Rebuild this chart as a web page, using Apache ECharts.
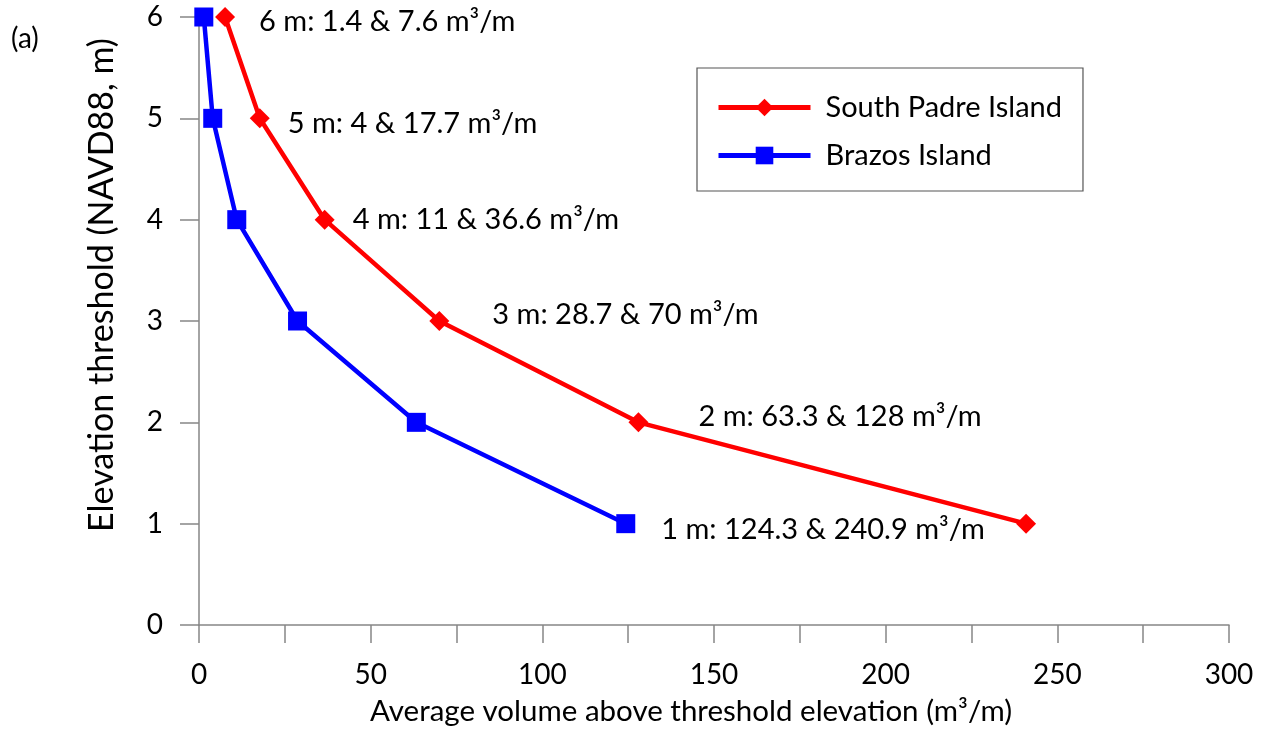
<!DOCTYPE html>
<html><head><meta charset="utf-8">
<script src="https://cdn.jsdelivr.net/npm/echarts@6/dist/echarts.min.js"></script>
<style>html,body{margin:0;padding:0;background:#fff;overflow:hidden}#c{width:1267px;height:731px}</style>
</head><body><div id="c"></div>
<script>
const elevations = [6, 5, 4, 3, 2, 1];
const brazosVolume = [1.4, 4, 11, 28.7, 63.3, 124.3];
const padreVolume = [7.6, 17.7, 36.6, 70, 128, 240.9];
const seriesNames = ['South Padre Island', 'Brazos Island'];
const xTitle = 'Average volume above threshold elevation (m³/m)';
const yTitle = 'Elevation threshold (NAVD88, m)';
const panelLabel = '(a)';

const FONT = 'Lato';
const FS = 28;
// label placement offsets (style, not data)
const labelOffsets = [[19, 5], [13, 5], [13, 0], [38, -6], [45, -6], [21, 6]];
const labelOnBlue = [false, false, false, false, false, true];

function labelText(i) {
  return elevations[i] + ' m: ' + brazosVolume[i] + ' & ' + padreVolume[i] + ' m³/m';
}
function mkLabel(i) {
  return { show: true, position: 'right', offset: labelOffsets[i], formatter: () => labelText(i) };
}

const padreData = elevations.map((e, i) => {
  const item = { value: [padreVolume[i], e] };
  if (!labelOnBlue[i]) item.label = mkLabel(i);
  return item;
});
const brazosData = elevations.map((e, i) => {
  const item = { value: [brazosVolume[i], e] };
  if (labelOnBlue[i]) item.label = mkLabel(i);
  return item;
});

const chart = echarts.init(document.getElementById('c'));
const axisColor = '#868686';
const axisLine = { show: true, lineStyle: { color: axisColor, width: 1.5 } };
chart.setOption({
  animation: false,
  textStyle: { fontFamily: FONT },
  grid: { left: 199, right: 38, top: 17, bottom: 96, containLabel: false },
  legend: {
    show: true, orient: 'vertical', left: 697, top: 68,
    padding: [25, 21, 21, 19], itemGap: 19,
    borderColor: '#555', borderWidth: 1.2,
    itemWidth: 92, itemHeight: 22,
    lineStyle: { width: 5 },
    textStyle: { fontSize: 29, fontFamily: FONT, color: '#000', padding: [0, 0, 0, 10] },
    data: seriesNames
  },
  xAxis: {
    type: 'value', min: 0, max: 300, interval: 50,
    name: xTitle, nameLocation: 'middle', nameGap: 71,
    nameTextStyle: { fontSize: 29.5, color: '#000', fontFamily: FONT, padding: [0, 46, 0, 0] },
    axisLine: axisLine,
    axisTick: { show: true, inside: false, length: 18, lineStyle: { color: axisColor, width: 1.5 } },
    minorTick: { show: true, splitNumber: 2, length: 18, lineStyle: { color: axisColor, width: 1.5 } },
    axisLabel: { fontSize: FS, color: '#000', margin: 36, fontFamily: FONT },
    splitLine: { show: false }
  },
  yAxis: {
    type: 'value', min: 0, max: 6, interval: 1,
    name: yTitle, nameLocation: 'middle', nameGap: 80, nameRotate: 90,
    nameTextStyle: { fontSize: 34, color: '#000', fontFamily: FONT, padding: [0, 0, 0, 72] },
    axisLine: axisLine,
    axisTick: { show: true, inside: false, length: 19, lineStyle: { color: axisColor, width: 1.5 } },
    axisLabel: { fontSize: FS, color: '#000', margin: 36, fontFamily: FONT },
    splitLine: { show: false }
  },
  graphic: [{ type: 'text', left: 11, top: 25, style: { text: panelLabel, fontSize: FS, fill: '#000', fontFamily: FONT } }],
  series: [
    {
      name: seriesNames[0], type: 'line', data: padreData,
      symbol: 'diamond', symbolSize: 20, color: '#ff0000',
      lineStyle: { width: 4.5, color: '#ff0000' }, itemStyle: { color: '#ff0000' },
      label: { fontSize: 29, color: '#000', fontFamily: FONT },
      z: 2
    },
    {
      name: seriesNames[1], type: 'line', data: brazosData,
      symbol: 'rect', symbolSize: 19, color: '#0000ff',
      lineStyle: { width: 4.5, color: '#0000ff' }, itemStyle: { color: '#0000ff' },
      label: { fontSize: 29, color: '#000', fontFamily: FONT },
      z: 3
    }
  ]
});
</script></body></html>
